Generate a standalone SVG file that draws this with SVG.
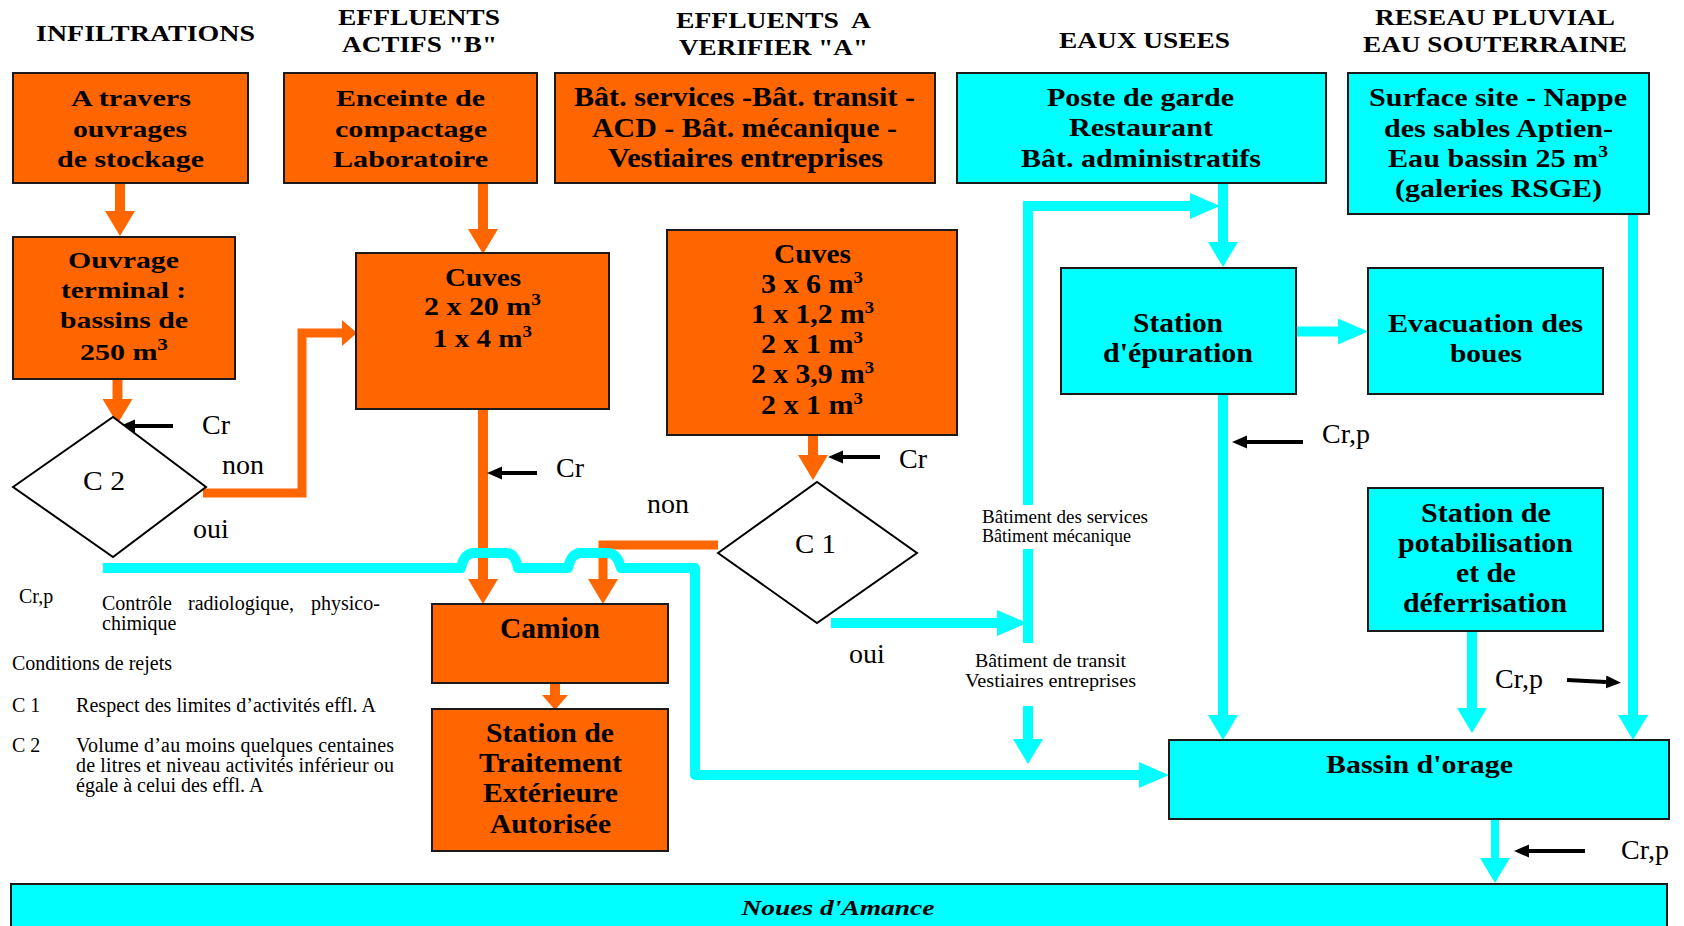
<svg xmlns="http://www.w3.org/2000/svg" width="1684" height="926" viewBox="0 0 1684 926">
<style>
.bo{fill:#FF6600;stroke:#1a1a1a;stroke-width:2}
.bc{fill:#00FFFF;stroke:#1a1a1a;stroke-width:2}
.dia{fill:#fff;stroke:#000;stroke-width:2}
.t{font-family:"Liberation Serif","Times New Roman",serif;font-weight:bold;text-anchor:middle;fill:#000}
.r{font-family:"Liberation Serif","Times New Roman",serif;fill:#000}
.sup{font-size:17px}
.ol{stroke:#FF6600;stroke-width:10;fill:none}
.cl{stroke:#00FFFF;stroke-width:10;fill:none;stroke-linejoin:round}
.kl{stroke:#000;stroke-width:4;fill:none}
</style>
<defs>
<marker id="oA" markerUnits="userSpaceOnUse" markerWidth="26" markerHeight="30" refX="0" refY="15" orient="auto"><path d="M0,0 L25,15 L0,30 z" fill="#FF6600"/></marker>
<marker id="oS" markerUnits="userSpaceOnUse" markerWidth="16" markerHeight="28" refX="0" refY="13" orient="auto"><path d="M0,0 L15,13 L0,26 z" fill="#FF6600"/></marker>
<marker id="cA" markerUnits="userSpaceOnUse" markerWidth="26" markerHeight="30" refX="0" refY="15" orient="auto"><path d="M0,0 L25,15 L0,30 z" fill="#00FFFF"/></marker>
<marker id="cH" markerUnits="userSpaceOnUse" markerWidth="31" markerHeight="28" refX="0" refY="13" orient="auto"><path d="M0,0 L30,13 L0,26 z" fill="#00FFFF"/></marker>
<marker id="kA" markerUnits="userSpaceOnUse" markerWidth="16" markerHeight="14" refX="0" refY="6.5" orient="auto"><path d="M0,0 L15,6.5 L0,13 z" fill="#000"/></marker>
</defs>

<g id="headers">
<text class="t" font-size="24" x="145.5" y="41" textLength="219" lengthAdjust="spacingAndGlyphs">INFILTRATIONS</text>
<text class="t" font-size="24" x="419" y="25" textLength="162" lengthAdjust="spacingAndGlyphs">EFFLUENTS</text>
<text class="t" font-size="24" x="419.5" y="52" textLength="155" lengthAdjust="spacingAndGlyphs">ACTIFS "B"</text>
<text class="t" font-size="24" x="773.5" y="28" textLength="195" lengthAdjust="spacingAndGlyphs">EFFLUENTS&#160; A</text>
<text class="t" font-size="24" x="773.5" y="55" textLength="189" lengthAdjust="spacingAndGlyphs">VERIFIER "A"</text>
<text class="t" font-size="24" x="1144.5" y="48" textLength="171" lengthAdjust="spacingAndGlyphs">EAUX USEES</text>
<text class="t" font-size="24" x="1495" y="25" textLength="240" lengthAdjust="spacingAndGlyphs">RESEAU PLUVIAL</text>
<text class="t" font-size="24" x="1495" y="52" textLength="264" lengthAdjust="spacingAndGlyphs">EAU SOUTERRAINE</text>
</g>

<g id="connectors">
<path class="ol" d="M120 183 V211" marker-end="url(#oA)"/>
<path class="ol" d="M117.5 379 V399" marker-end="url(#oA)"/>
<path class="ol" d="M483 183 V229" marker-end="url(#oA)"/>
<path class="ol" style="stroke-width:9" d="M203 493 H302 V333 H342" marker-end="url(#oS)"/>
<path class="ol" d="M483 409 V579" marker-end="url(#oA)"/>
<path class="ol" d="M813 435 V455" marker-end="url(#oA)"/>
<path class="ol" style="stroke-width:9" d="M718 545 H603 V579" marker-end="url(#oA)"/>
<path class="ol" d="M555 683 V695" marker-end="url(#oS)"/>
<path class="cl" d="M103 568 H461 Q464 553 474 553 H506 Q515 553 518 568 H568 Q571 553 581 553 H608 Q617 553 621 568 H695 V775 H1139" marker-end="url(#cH)"/>
<path class="cl" d="M831 623 H997" marker-end="url(#cH)"/>
<path class="cl" style="stroke-linejoin:miter" d="M1028 505 V206 H1190" marker-end="url(#cH)"/>
<path class="cl" d="M1028 549 V643"/>
<path class="cl" d="M1028 706 V739" marker-end="url(#cA)"/>
<path class="cl" d="M1223 183 V242" marker-end="url(#cA)"/>
<path class="cl" d="M1223 394 V715" marker-end="url(#cA)"/>
<path class="cl" d="M1296 331.5 H1338" marker-end="url(#cH)"/>
<path class="cl" d="M1633 214 V715" marker-end="url(#cA)"/>
<path class="cl" d="M1472 631 V708" marker-end="url(#cA)"/>
<path class="cl" style="stroke-width:8" d="M1495 819 V858" marker-end="url(#cA)"/>
<path class="kl" d="M173 426 H135" marker-end="url(#kA)"/>
<path class="kl" d="M537 473 H502" marker-end="url(#kA)"/>
<path class="kl" d="M880 457 H843" marker-end="url(#kA)"/>
<path class="kl" d="M1303 442 H1247" marker-end="url(#kA)"/>
<path class="kl" d="M1567 680 L1606 682" marker-end="url(#kA)"/>
<path class="kl" d="M1585 851 H1529" marker-end="url(#kA)"/>
</g>

<g id="n-infiltr">
<rect class="bo" x="13" y="73" width="235" height="110"/>
<text class="t" font-size="24" x="131" y="106" textLength="120" lengthAdjust="spacingAndGlyphs">A travers</text>
<text class="t" font-size="24" x="130" y="137" textLength="114" lengthAdjust="spacingAndGlyphs">ouvrages</text>
<text class="t" font-size="24" x="130.5" y="167" textLength="147" lengthAdjust="spacingAndGlyphs">de stockage</text>
</g>

<g id="n-enceinte">
<rect class="bo" x="284" y="73" width="253" height="110"/>
<text class="t" font-size="24" x="410.5" y="106" textLength="149" lengthAdjust="spacingAndGlyphs">Enceinte de</text>
<text class="t" font-size="24" x="411" y="137" textLength="152" lengthAdjust="spacingAndGlyphs">compactage</text>
<text class="t" font-size="24" x="410.5" y="167" textLength="155" lengthAdjust="spacingAndGlyphs">Laboratoire</text>
</g>

<g id="n-batiments">
<rect class="bo" x="555" y="73" width="380" height="110"/>
<text class="t" font-size="27" x="744.5" y="106" textLength="341" lengthAdjust="spacingAndGlyphs">Bât. services -Bât. transit -</text>
<text class="t" font-size="27" x="744.5" y="137" textLength="305" lengthAdjust="spacingAndGlyphs">ACD - Bât. mécanique -</text>
<text class="t" font-size="27" x="745.5" y="167" textLength="275" lengthAdjust="spacingAndGlyphs">Vestiaires entreprises</text>
</g>

<g id="n-poste">
<rect class="bc" x="957" y="73" width="369" height="110"/>
<text class="t" font-size="26" x="1140.5" y="106" textLength="187" lengthAdjust="spacingAndGlyphs">Poste de garde</text>
<text class="t" font-size="26" x="1141" y="136" textLength="144" lengthAdjust="spacingAndGlyphs">Restaurant</text>
<text class="t" font-size="26" x="1141" y="167" textLength="240" lengthAdjust="spacingAndGlyphs">Bât. administratifs</text>
</g>

<g id="n-surface">
<rect class="bc" x="1348" y="73" width="301" height="141"/>
<text class="t" font-size="26" x="1498" y="106" textLength="258" lengthAdjust="spacingAndGlyphs">Surface site - Nappe</text>
<text class="t" font-size="26" x="1498.5" y="137" textLength="229" lengthAdjust="spacingAndGlyphs">des sables Aptien-</text>
<text class="t" font-size="26" x="1498" y="167" textLength="220" lengthAdjust="spacingAndGlyphs">Eau bassin 25 m<tspan class="sup" dy="-10">3</tspan></text>
<text class="t" font-size="26" x="1498.5" y="197" textLength="207" lengthAdjust="spacingAndGlyphs">(galeries RSGE)</text>
</g>

<g id="n-ouvrage">
<rect class="bo" x="13" y="237" width="222" height="142"/>
<text class="t" font-size="24" x="123.5" y="268" textLength="111" lengthAdjust="spacingAndGlyphs">Ouvrage</text>
<text class="t" font-size="24" x="123.5" y="298" textLength="125" lengthAdjust="spacingAndGlyphs">terminal :</text>
<text class="t" font-size="24" x="124" y="328" textLength="128" lengthAdjust="spacingAndGlyphs">bassins de</text>
<text class="t" font-size="24" x="124" y="360" textLength="88" lengthAdjust="spacingAndGlyphs">250 m<tspan class="sup" dy="-10">3</tspan></text>
</g>

<g id="n-cuves-b">
<rect class="bo" x="356" y="253" width="253" height="156"/>
<text class="t" font-size="26" x="483" y="286" textLength="76" lengthAdjust="spacingAndGlyphs">Cuves</text>
<text class="t" font-size="26" x="482.5" y="315" textLength="117" lengthAdjust="spacingAndGlyphs">2 x 20 m<tspan class="sup" dy="-10">3</tspan></text>
<text class="t" font-size="26" x="482.5" y="347" textLength="99" lengthAdjust="spacingAndGlyphs">1 x 4 m<tspan class="sup" dy="-10">3</tspan></text>
</g>

<g id="n-cuves-a">
<rect class="bo" x="667" y="230" width="290" height="205"/>
<text class="t" font-size="27" x="812.5" y="263" textLength="77" lengthAdjust="spacingAndGlyphs">Cuves</text>
<text class="t" font-size="27" x="812" y="293" textLength="102" lengthAdjust="spacingAndGlyphs">3 x 6 m<tspan class="sup" dy="-10">3</tspan></text>
<text class="t" font-size="27" x="812.5" y="323" textLength="123" lengthAdjust="spacingAndGlyphs">1 x 1,2 m<tspan class="sup" dy="-10">3</tspan></text>
<text class="t" font-size="27" x="812" y="353" textLength="102" lengthAdjust="spacingAndGlyphs">2 x 1 m<tspan class="sup" dy="-10">3</tspan></text>
<text class="t" font-size="27" x="812.5" y="383" textLength="123" lengthAdjust="spacingAndGlyphs">2 x 3,9 m<tspan class="sup" dy="-10">3</tspan></text>
<text class="t" font-size="27" x="812" y="414" textLength="102" lengthAdjust="spacingAndGlyphs">2 x 1 m<tspan class="sup" dy="-10">3</tspan></text>
</g>

<g id="n-epuration">
<rect class="bc" x="1061" y="268" width="235" height="126"/>
<text class="t" font-size="27" x="1178" y="332" textLength="90" lengthAdjust="spacingAndGlyphs">Station</text>
<text class="t" font-size="27" x="1178" y="362" textLength="150" lengthAdjust="spacingAndGlyphs">d'épuration</text>
</g>

<g id="n-evacuation">
<rect class="bc" x="1368" y="268" width="235" height="126"/>
<text class="t" font-size="25" x="1485.5" y="332" textLength="195" lengthAdjust="spacingAndGlyphs">Evacuation des</text>
<text class="t" font-size="25" x="1486" y="362" textLength="72" lengthAdjust="spacingAndGlyphs">boues</text>
</g>

<g id="n-potabilisation">
<rect class="bc" x="1368" y="488" width="235" height="143"/>
<text class="t" font-size="27" x="1486" y="522" textLength="130" lengthAdjust="spacingAndGlyphs">Station de</text>
<text class="t" font-size="27" x="1485.5" y="552" textLength="175" lengthAdjust="spacingAndGlyphs">potabilisation</text>
<text class="t" font-size="27" x="1486" y="582" textLength="60" lengthAdjust="spacingAndGlyphs">et de</text>
<text class="t" font-size="27" x="1485" y="612" textLength="164" lengthAdjust="spacingAndGlyphs">déferrisation</text>
</g>

<g id="n-bassin">
<rect class="bc" x="1169" y="740" width="500" height="79"/>
<text class="t" font-size="26" x="1419.5" y="773" textLength="187" lengthAdjust="spacingAndGlyphs">Bassin d'orage</text>
</g>

<g id="n-camion">
<rect class="bo" x="432" y="604" width="236" height="79"/>
<text class="t" font-size="29" x="550" y="638" textLength="100" lengthAdjust="spacingAndGlyphs">Camion</text>
</g>

<g id="n-traitement">
<rect class="bo" x="432" y="709" width="236" height="142"/>
<text class="t" font-size="28" x="550" y="742" textLength="128" lengthAdjust="spacingAndGlyphs">Station de</text>
<text class="t" font-size="28" x="550.5" y="772" textLength="143" lengthAdjust="spacingAndGlyphs">Traitement</text>
<text class="t" font-size="28" x="550.5" y="802" textLength="135" lengthAdjust="spacingAndGlyphs">Extérieure</text>
<text class="t" font-size="28" x="550.5" y="833" textLength="121" lengthAdjust="spacingAndGlyphs">Autorisée</text>
</g>

<g id="n-noues">
<rect class="bc" x="11" y="884" width="1656" height="60"/>
<text class="t" font-size="22" font-style="italic" x="838" y="915" textLength="193" lengthAdjust="spacingAndGlyphs">Noues d'Amance</text>
</g>

<g id="n-c2">
<polygon class="dia" points="13,487 113,417 206,487 113,557"/>
<text class="r" font-size="28" x="83" y="490" textLength="42" lengthAdjust="spacingAndGlyphs">C 2</text>
</g>

<g id="n-c1">
<polygon class="dia" points="718,553 817,482 917,553 817,623"/>
<text class="r" font-size="28" x="795" y="553" textLength="41" lengthAdjust="spacingAndGlyphs">C 1</text>
</g>

<g id="labels">
<text class="r" font-size="28" x="202" y="434">Cr</text>
<text class="r" font-size="28" x="222" y="474">non</text>
<text class="r" font-size="28" x="193" y="538">oui</text>
<text class="r" font-size="28" x="556" y="477">Cr</text>
<text class="r" font-size="28" x="647" y="513">non</text>
<text class="r" font-size="28" x="899" y="468">Cr</text>
<text class="r" font-size="28" x="849" y="663">oui</text>
<text class="r" font-size="28" x="1322" y="443">Cr,p</text>
<text class="r" font-size="28" x="1495" y="688">Cr,p</text>
<text class="r" font-size="28" x="1621" y="859">Cr,p</text>
<text class="r" font-size="19" x="982" y="523" textLength="166" lengthAdjust="spacingAndGlyphs">Bâtiment des services</text>
<text class="r" font-size="19" x="982" y="542" textLength="149" lengthAdjust="spacingAndGlyphs">Bâtiment mécanique</text>
<text class="r" font-size="19" x="975" y="667" textLength="151" lengthAdjust="spacingAndGlyphs">Bâtiment de transit</text>
<text class="r" font-size="19" x="965" y="687" textLength="171" lengthAdjust="spacingAndGlyphs">Vestiaires entreprises</text>
</g>

<g id="legend">
<text class="r" font-size="20" x="19" y="603">Cr,p</text>
<text class="r" font-size="20" x="102" y="610">Contrôle</text>
<text class="r" font-size="20" x="188" y="610">radiologique,</text>
<text class="r" font-size="20" x="311" y="610">physico-</text>
<text class="r" font-size="20" x="102" y="630">chimique</text>
<text class="r" font-size="20" x="12" y="670">Conditions de rejets</text>
<text class="r" font-size="20" x="12" y="712">C 1</text>
<text class="r" font-size="20" x="76" y="712" textLength="300" lengthAdjust="spacing">Respect des limites d’activités effl. A</text>
<text class="r" font-size="20" x="12" y="752">C 2</text>
<text class="r" font-size="20" x="76" y="752" textLength="318" lengthAdjust="spacing">Volume d’au moins quelques centaines</text>
<text class="r" font-size="20" x="76" y="772" textLength="318" lengthAdjust="spacing">de litres et niveau activités inférieur ou</text>
<text class="r" font-size="20" x="76" y="792">égale à celui des effl. A</text>
</g>
</svg>
